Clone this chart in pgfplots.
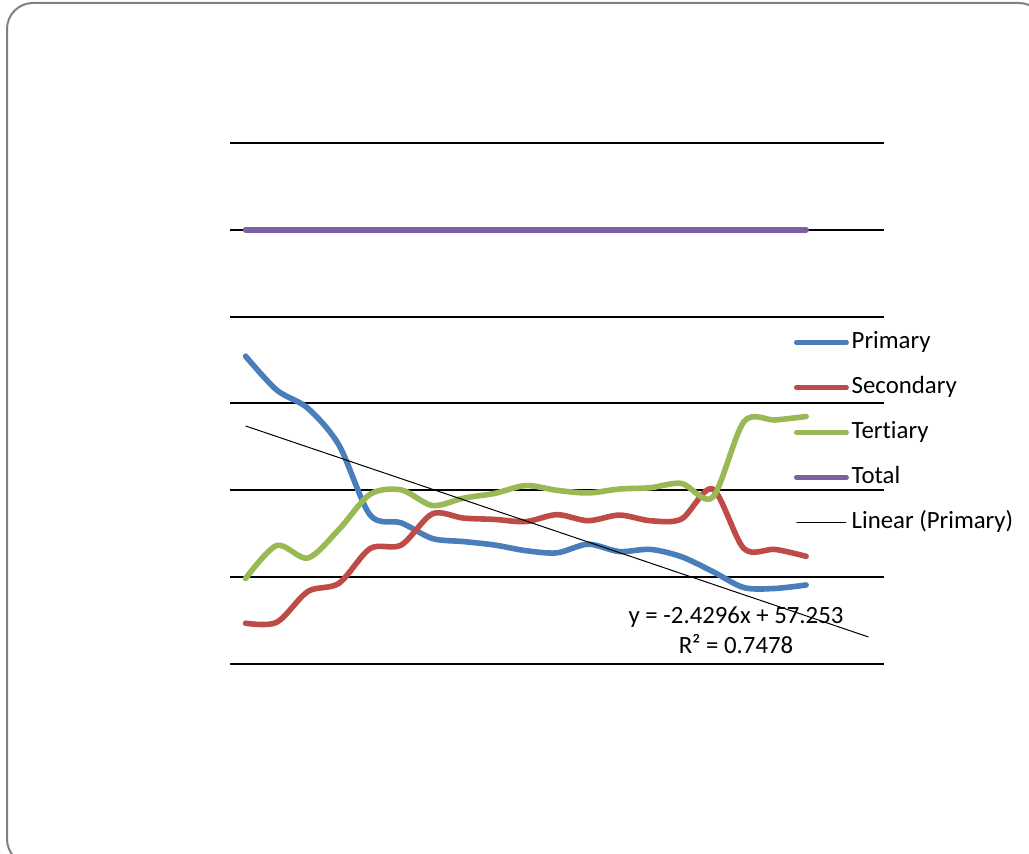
\documentclass[border=0pt]{standalone}
\usepackage{pgfplots}
\pgfplotsset{compat=1.18}
\usepackage{fontspec}
\setmainfont{Carlito}[Ligatures={NoCommon}]
\definecolor{cblue}{HTML}{4A7EBB}
\definecolor{cred}{HTML}{BE4B48}
\definecolor{cgreen}{HTML}{98B954}
\definecolor{cpurple}{HTML}{7D60A0}
\begin{document}
\begin{tikzpicture}
\begin{scope}[x=0.5pt,y=0.5pt]
\useasboundingbox (0,0) rectangle (1029,853);
\draw[black!50, line width=1pt, rounded corners=13pt] (7,850) rectangle (1045,-12);
\node[anchor=base, inner sep=0pt, font=\fontsize{12.4}{14}\selectfont] at (736,230) {y = -2.4296x + 57.253};
\node[anchor=base, inner sep=0pt, font=\fontsize{12.4}{14}\selectfont] at (736,200) {R² = 0.7478};
\end{scope}
\begin{axis}[
  at={(115pt,94.5pt)}, anchor=south west,
  scale only axis, width=327pt, height=260.5pt,
  xmin=0.5, xmax=21.5, ymin=0, ymax=120,
  ytick={0,20,...,120}, xtick=\empty, yticklabels={},
  ymajorgrids, major grid style={black, line width=1pt},
  axis line style={draw=none}, tick style={draw=none},
  clip=false,
  every axis plot/.append style={line width=2.8pt, line cap=round, line join=round},
  legend cell align=left,
  legend image code/.code={\path[use as bounding box] (0pt,0pt) rectangle (24.5pt,0pt); \draw[#1] (0pt,0pt) -- (24.5pt,0pt);},
  legend style={draw=none, fill=none, at={(0.862,0.6392)}, anchor=north west,
    inner sep=0pt, row sep=11.5pt, column sep=1.5pt,
    nodes={inner sep=0pt, text height=8.5pt, text depth=2.5pt},
    font=\fontsize{12.4}{14}\selectfont},
]
\addplot[cblue, smooth] coordinates {
(1,70.9)(2,63.1)(3,58.9)(4,50.4)(5,34.3)(6,32.5)(7,28.9)(8,28.2)(9,27.4)(10,26.1)
(11,25.6)(12,27.6)(13,25.9)(14,26.4)(15,24.7)(16,21.3)(17,17.6)(18,17.4)(19,18.2)};
\addlegendentry{Primary}
\addplot[cred, smooth] coordinates {
(1,9.4)(2,9.6)(3,16.7)(4,18.6)(5,26.6)(6,27.4)(7,34.6)(8,33.6)(9,33.3)(10,32.8)
(11,34.4)(12,33.0)(13,34.3)(14,33.0)(15,33.4)(16,40.3)(17,26.6)(18,26.4)(19,24.8)};
\addlegendentry{Secondary}
\addplot[cgreen, smooth] coordinates {
(1,19.7)(2,27.3)(3,24.4)(4,31.0)(5,39.1)(6,40.1)(7,36.5)(8,38.2)(9,39.3)(10,41.1)
(11,40.0)(12,39.4)(13,40.3)(14,40.6)(15,41.6)(16,38.4)(17,55.8)(18,56.2)(19,57.0)};
\addlegendentry{Tertiary}
\addplot[cpurple, smooth] coordinates {
(1,100)(2,100)(3,100)(4,100)(5,100)(6,100)(7,100)(8,100)(9,100)(10,100)
(11,100)(12,100)(13,100)(14,100)(15,100)(16,100)(17,100)(18,100)(19,100)};
\addlegendentry{Total}
\addplot[black, line width=0.5pt, line cap=butt] coordinates {(1,54.8234)(21,6.2314)};
\addlegendentry{Linear (Primary)}
\end{axis}
\end{tikzpicture}
\end{document}
